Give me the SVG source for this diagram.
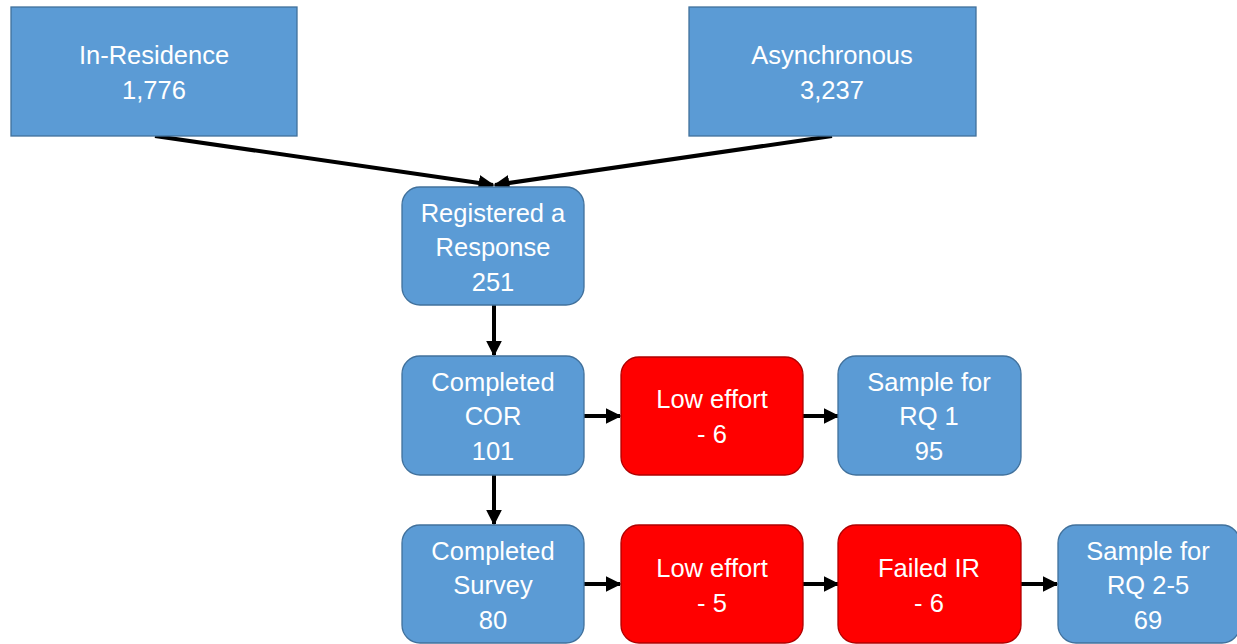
<svg xmlns="http://www.w3.org/2000/svg" width="1237" height="644" viewBox="0 0 1237 644">
  <style>
    .blue { fill: #5B9BD5; stroke: #41719C; stroke-width: 1.3; }
    .red { fill: #FF0000; stroke: #B00000; stroke-width: 1.3; }
    .lbl { font-family: "Liberation Sans", Arial, sans-serif; font-size: 25.5px; fill: #FFFFFF; text-anchor: middle; }
    .conn { stroke: #000000; stroke-width: 4; fill: none; marker-end: url(#arrow); }
  </style>
  <defs>
    <marker id="arrow" viewBox="0 0 10 10" refX="9" refY="5" markerWidth="4" markerHeight="4" markerUnits="strokeWidth" orient="auto">
      <path d="M0,0 L10,5 L0,10 Z" fill="#000000"/>
    </marker>
  </defs>
  <rect width="1237" height="644" fill="#FFFFFF"/>

  <!-- arrows between the boxes -->
  <g id="connectors">
    <line class="conn" x1="155" y1="136" x2="493" y2="185"/>
    <line class="conn" x1="832" y1="136" x2="495" y2="185"/>
    <line class="conn" x1="494" y1="305" x2="494" y2="355"/>
    <line class="conn" x1="494" y1="475" x2="494" y2="524"/>
    <line class="conn" x1="584" y1="416" x2="620" y2="416"/>
    <line class="conn" x1="803" y1="416" x2="838" y2="416"/>
    <line class="conn" x1="584" y1="584" x2="620" y2="584"/>
    <line class="conn" x1="803" y1="584" x2="838" y2="584"/>
    <line class="conn" x1="1021" y1="584" x2="1057" y2="584"/>
  </g>

  <g id="in-residence">
    <rect class="blue" x="11" y="7" width="286" height="129"/>
    <text class="lbl" x="154" y="64">In-Residence</text>
    <text class="lbl" x="154" y="99">1,776</text>
  </g>
  <g id="asynchronous">
    <rect class="blue" x="689" y="7" width="287" height="129"/>
    <text class="lbl" x="832" y="64">Asynchronous</text>
    <text class="lbl" x="832" y="99">3,237</text>
  </g>
  <g id="registered">
    <rect class="blue" x="402" y="187" width="182" height="118" rx="18"/>
    <text class="lbl" x="493" y="222">Registered a</text>
    <text class="lbl" x="493" y="256">Response</text>
    <text class="lbl" x="493" y="291">251</text>
  </g>
  <g id="completed-cor">
    <rect class="blue" x="402" y="356" width="182" height="119" rx="18"/>
    <text class="lbl" x="493" y="391">Completed</text>
    <text class="lbl" x="493" y="425">COR</text>
    <text class="lbl" x="493" y="460">101</text>
  </g>
  <g id="low-effort-1">
    <rect class="red" x="621" y="357" width="182" height="118" rx="18"/>
    <text class="lbl" x="712" y="408">Low effort</text>
    <text class="lbl" x="712" y="443">- 6</text>
  </g>
  <g id="sample-rq1">
    <rect class="blue" x="838" y="356" width="183" height="119" rx="18"/>
    <text class="lbl" x="929" y="391">Sample for</text>
    <text class="lbl" x="929" y="425">RQ 1</text>
    <text class="lbl" x="929" y="460">95</text>
  </g>
  <g id="completed-survey">
    <rect class="blue" x="402" y="525" width="182" height="118" rx="18"/>
    <text class="lbl" x="493" y="560">Completed</text>
    <text class="lbl" x="493" y="594">Survey</text>
    <text class="lbl" x="493" y="629">80</text>
  </g>
  <g id="low-effort-2">
    <rect class="red" x="621" y="525" width="182" height="118" rx="18"/>
    <text class="lbl" x="712" y="577">Low effort</text>
    <text class="lbl" x="712" y="612">- 5</text>
  </g>
  <g id="failed-ir">
    <rect class="red" x="838" y="525" width="183" height="118" rx="18"/>
    <text class="lbl" x="929" y="577">Failed IR</text>
    <text class="lbl" x="929" y="612">- 6</text>
  </g>
  <g id="sample-rq2-5">
    <rect class="blue" x="1058" y="525" width="182" height="118" rx="18"/>
    <text class="lbl" x="1148" y="560">Sample for</text>
    <text class="lbl" x="1148" y="594">RQ 2-5</text>
    <text class="lbl" x="1148" y="629">69</text>
  </g>
</svg>
